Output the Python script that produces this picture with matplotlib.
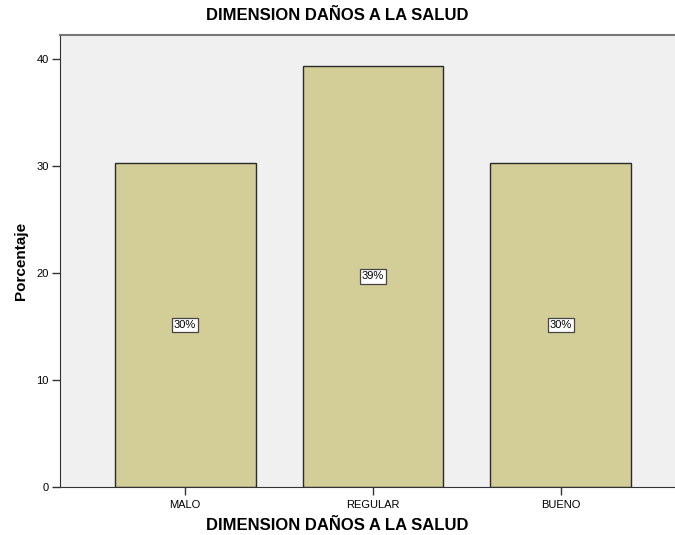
import matplotlib
matplotlib.use("Agg")
import matplotlib.pyplot as plt

plt.rcParams["font.family"] = ["Liberation Sans", "DejaVu Sans"]

# Data
categorias = ["MALO", "REGULAR", "BUENO"]
porcentajes = [30.3, 39.4, 30.3]
etiquetas = ["30%", "39%", "30%"]

fig = plt.figure(figsize=(6.75, 5.35), dpi=100)
ax = fig.add_axes([60 / 675, 48 / 535, 626 / 675, 452.3 / 535])
ax.set_facecolor("#f0f0f0")

x = list(range(len(categorias)))
ax.bar(x, porcentajes, width=0.75, color="#d3ce97",
       edgecolor="#2a2a2a", linewidth=1.0, zorder=2)

# Percent labels in the middle of each bar
for xi, v, lab in zip(x, porcentajes, etiquetas):
    ax.text(xi, v / 2, lab, ha="center", va="center", fontsize=8,
            bbox=dict(boxstyle="square,pad=0.2", facecolor="white",
                      edgecolor="#444444", linewidth=0.9), zorder=3)

ax.set_xlim(-0.665, 2.665)
ax.set_ylim(0, 42.3)
ax.set_xticks(x)
ax.set_xticklabels(categorias, fontsize=8)
ax.set_yticks([0, 10, 20, 30, 40])
ax.tick_params(axis="both", length=6, width=1, color="#333333", pad=2)
ax.tick_params(axis="x", pad=3)
ax.tick_params(axis="y", labelsize=8)

ax.spines["left"].set_color("#333333")
ax.spines["bottom"].set_color("#333333")
ax.spines["top"].set_color("#777777")
ax.spines["top"].set_linewidth(1.5)
ax.spines["right"].set_visible(False)

ax.set_ylabel("Porcentaje", fontsize=11, fontweight="bold", labelpad=6)

fig.text(0.5, 1 - 16 / 535, "DIMENSION DAÑOS A LA SALUD", ha="center",
         va="center", fontsize=12, fontweight="bold")
fig.text(0.5, 9 / 535, "DIMENSION DAÑOS A LA SALUD", ha="center",
         va="center", fontsize=12, fontweight="bold")

fig.savefig("out.png", dpi=100)
